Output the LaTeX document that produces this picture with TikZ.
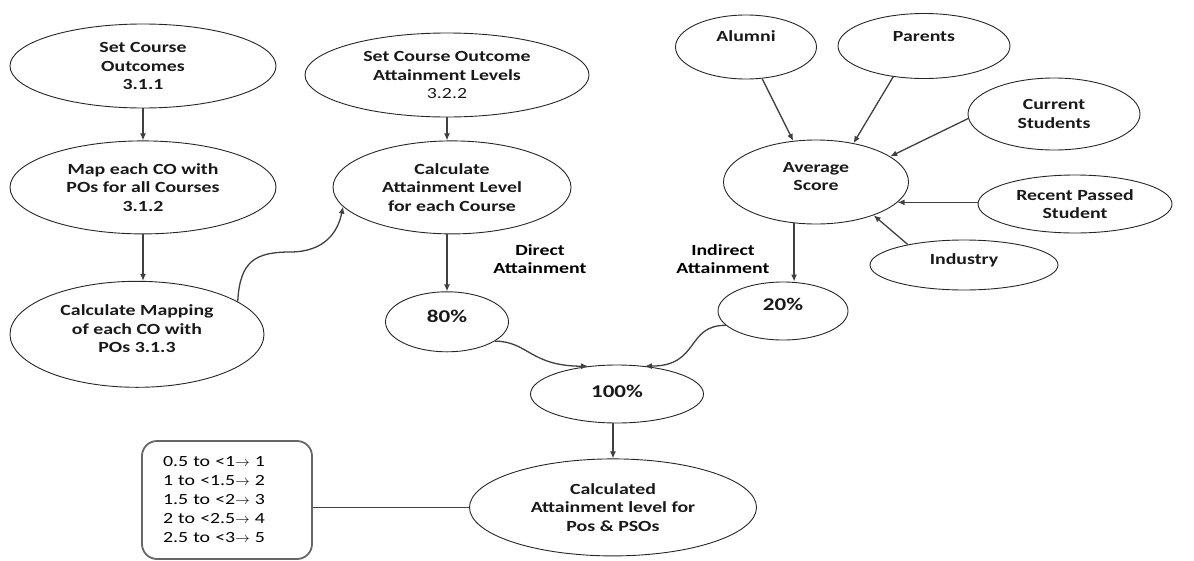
\documentclass[tikz,border=0pt]{standalone}
\usepackage{fontspec}
\setmainfont{Carlito}[FakeStretch=1.28]
\usetikzlibrary{arrows.meta,positioning,shapes.geometric}

\begin{document}
\begin{tikzpicture}[
  x=1pt, y=-1pt,
  font=\fontsize{15.5}{18.5}\selectfont\bfseries,
  oval/.style={draw=black!85, ellipse, line width=0.9pt, align=center, inner sep=0pt, text=black!90},
  pct/.style={oval, font=\fontsize{18}{20}\selectfont\bfseries},
  lift/.style={text depth=#1},
  arr/.style={draw=black!75, line width=1.3pt, -{Latex[length=7pt,width=6pt]}},
  levelbox/.style={draw=black!60, line width=1.8pt, rounded corners=15pt, minimum width=170pt, minimum height=118pt, text width=128pt, align=left, font=\fontsize{15.5}{19}\selectfont}
]
\useasboundingbox (0,0) rectangle (1194,560);

% direct attainment chain
\node[oval, minimum width=266pt, minimum height=84pt] (setco) at (143,66) {Set Course\\Outcomes\\3.1.1};
\node[oval, minimum width=266pt, minimum height=93pt, below=32pt of setco] (mapco) {Map each CO with\\POs for all Courses\\3.1.2};
\node[oval, minimum width=254pt, minimum height=106pt, lift=11pt, below=46.5pt of mapco, xshift=-6pt] (calcmap) {Calculate Mapping\\of each CO with\\POs 3.1.3};
\node[oval, minimum width=284pt, minimum height=84pt] (setlevel) at (447,75) {Set Course Outcome\\Attainment Levels\\{\mdseries 3.2.2}};
\node[oval, minimum width=238pt, minimum height=93pt, below=23pt of setlevel, xshift=5pt] (calcatt) {Calculate\\Attainment Level\\for each Course};
\node[pct, minimum width=123pt, minimum height=60pt, lift=11pt, below=57pt of calcatt, xshift=-5pt] (pct80) {80\%};
\node[align=center] (direct) at (540,259) {Direct\\Attainment};

% indirect attainment (surveys)
\node[oval, minimum width=141pt, minimum height=64pt, lift=21pt] (alumni) at (746,47) {Alumni};
\node[oval, minimum width=172pt, minimum height=65pt, lift=19pt] (parents) at (924,46) {Parents};
\node[oval, minimum width=172pt, minimum height=72pt] (current) at (1054,114) {Current\\Students};
\node[oval, minimum width=185pt, minimum height=84pt, lift=11pt] (avg) at (816,182) {Average\\Score};
\node[oval, minimum width=194pt, minimum height=58pt] (recent) at (1075,204) {Recent Passed\\Student};
\node[oval, minimum width=188pt, minimum height=50pt, lift=11pt] (industry) at (964,265) {Industry};
\node[pct, minimum width=130pt, minimum height=58pt, lift=13pt] (pct20) at (783,311) {20\%};
\node[align=center] (indirect) at (723,259) {Indirect\\Attainment};

% result
\node[pct, minimum width=173pt, minimum height=58pt, lift=5pt] (pct100) at (617,394) {100\%};
\node[oval, minimum width=287pt, minimum height=97pt, below=35pt of pct100, xshift=-4pt] (calcpo) {Calculated\\Attainment level for\\Pos \& PSOs};
\node[levelbox] (levels) at (227,500) {0.5 to <1$\rightarrow$ 1\\1 to <1.5$\rightarrow$ 2\\1.5 to <2$\rightarrow$ 3\\2 to <2.5$\rightarrow$ 4\\2.5 to <3$\rightarrow$ 5};

\coordinate (kink) at (290,252);

\draw[arr] (setco) -- (mapco);
\draw[arr] (mapco.south) -- (mapco.south |- calcmap.north);
\draw[arr] (setlevel.south) -- (setlevel.south |- calcatt.north);
\draw[arr] (calcmap.18) .. controls +(2,-40) and +(-35,0) .. (kink) .. controls +(35,0) and +(-5,25) .. (calcatt.190);
\draw[arr] (pct80.north |- calcatt.south) -- (pct80.north);

\draw[arr] (alumni.-63) -- (avg.119);
\draw[arr] (parents.-135) -- (avg.46);
\draw[arr] (current.183) -- (avg.19);
\draw[arr] (recent.west |- avg.-14) -- (avg.-14);
\draw[arr] (industry.160) -- (avg.-30);
\draw[arr] (avg.242) -- (pct20.north -| avg.242);

\draw[arr] (pct80.-22) .. controls +(33,0) and +(-58,0) .. (pct100.136);
\draw[arr] (pct20.194) .. controls +(-40,0) and +(55,0) .. (pct100.45);
\draw[arr] (calcpo.north |- pct100.south) -- (calcpo.north);
\draw[draw=black!75, line width=1.5pt] (levels.east |- calcpo.west) -- (calcpo.west);
\end{tikzpicture}
\end{document}
